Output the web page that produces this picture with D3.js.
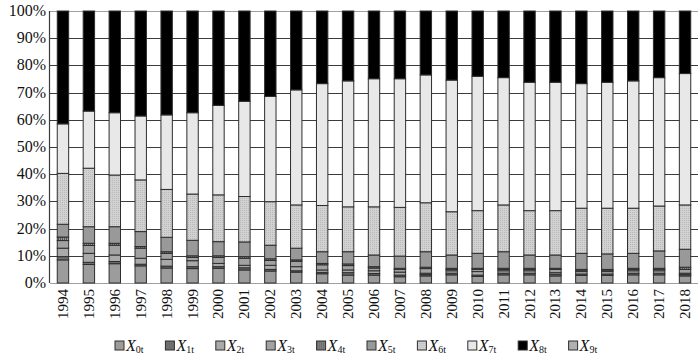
<!DOCTYPE html>
<html>
<head>
<meta charset="utf-8">
<script src="https://cdn.jsdelivr.net/npm/d3@7"></script>
<style>
  body { margin: 0; background: #fff; }
  svg { display: block; font-family: "Liberation Serif", "Times New Roman", serif; }
</style>
</head>
<body>
<div class="chart"></div>
<script>
// years on the x axis
const years = ["1994","1995","1996","1997","1998","1999","2000","2001","2002","2003","2004","2005","2006",
               "2007","2008","2009","2010","2011","2012","2013","2014","2015","2016","2017","2018"];

// share of each component (%)
const x0 = [8.5,6.8,7.1,6.3,5.5,5.3,5.4,4.8,4.4,4.0,3.4,2.9,2.9,2.3,2.6,3.0,2.4,3.0,3.0,2.6,2.8,2.8,3.0,3.0,2.6];
const x1 = [1.2,0.8,0.8,0.6,0.7,0.7,0.6,0.8,0.6,0.5,0.5,0.9,0.6,0.6,0.5,0.6,0.5,0.6,0.6,0.6,0.5,0.5,0.6,0.6,0.5];
const x2 = [3.1,3.3,2.4,2.2,2.5,2.2,1.2,0.9,1.5,1.5,0.9,1.0,1.0,1.1,0.5,0.9,1.3,0.9,0.9,0.6,0.9,0.9,0.9,0.9,0.5];
const x3 = [2.8,2.9,3.6,3.7,2.2,1.2,2.2,2.6,1.8,2.0,1.9,1.6,1.0,1.0,1.7,0.5,0.8,0.5,0.5,1.2,0.5,0.5,0.5,0.5,1.4];
const x4 = [1.3,0.8,0.7,0.6,0.6,0.6,0.6,0.6,0.6,0.5,0.5,0.6,0.5,0.4,0.5,0.4,0.4,0.4,0.4,0.4,0.3,0.3,0.4,0.4,0.8];
const x5 = [4.7,6.1,6.1,5.5,5.3,5.7,5.2,5.4,5.0,4.3,4.3,4.5,4.3,4.5,5.7,4.9,5.5,6.1,4.9,4.9,5.9,5.7,5.5,6.4,6.6];
const x6 = [18.7,21.5,19.0,19.0,17.6,17.0,17.2,16.7,16.0,15.9,17.0,16.5,17.7,17.9,18.0,15.9,15.7,17.2,16.3,16.3,16.6,16.8,16.6,16.5,16.3];
const x7 = [18.2,21.0,22.9,23.5,27.4,29.9,32.9,35.0,38.7,42.3,44.8,46.3,47.1,47.3,47.0,48.4,49.4,46.8,47.2,47.2,45.8,46.3,46.8,47.2,48.3];
const x8 = [41.5,36.8,37.4,38.6,38.2,37.4,34.7,33.2,31.4,29.0,26.7,25.7,24.9,24.9,23.5,25.4,24.0,24.5,26.2,26.2,26.7,26.2,25.7,24.5,23.0];
const x9 = [0,0,0,0,0,0,0,0,0,0,0,0,0,0,0,0,0,0,0,0,0,0,0,0,0];

const seriesKeys = ["X0","X1","X2","X3","X4","X5","X6","X7","X8","X9"];
const seriesVals = [x0,x1,x2,x3,x4,x5,x6,x7,x8,x9];
const fills = ["#9c9c9c","#6e6e6e","#a9a9a9","#a2a2a2","url(#stripe)","#999999","url(#dots)","#e8e8e8","#000000","#b0b0b0"];

const width = 700, height = 357;
const margin = {top: 11, right: 2, bottom: 74, left: 50};

let rows = years.map((y, i) => {
    let r = {year: y};
    seriesKeys.forEach((k, j) => r[k] = seriesVals[j][i]);
    return r;
});

let stacked = d3.stack().keys(seriesKeys).offset(d3.stackOffsetExpand)(rows);

let svg = d3.select(".chart").append("svg")
    .attr("width", width)
    .attr("height", height);

let defs = svg.append("defs");
let dots = defs.append("pattern").attr("id", "dots")
    .attr("width", 2).attr("height", 2).attr("patternUnits", "userSpaceOnUse");
dots.append("rect").attr("width", 2).attr("height", 2).attr("fill", "#d2d2d2");
dots.append("rect").attr("width", 1).attr("height", 1).attr("fill", "#b8b8b8");
let stripe = defs.append("pattern").attr("id", "stripe")
    .attr("width", 2).attr("height", 2).attr("patternUnits", "userSpaceOnUse");
stripe.append("rect").attr("width", 2).attr("height", 2).attr("fill", "#9a9a9a");
stripe.append("rect").attr("width", 1).attr("height", 2).attr("fill", "#555");

let x = d3.scaleBand()
    .domain(years)
    .range([margin.left, width - margin.right])
    .paddingInner(0.56)
    .paddingOuter(0.28);

let y = d3.scaleLinear()
    .domain([0, 1])
    .range([height - margin.bottom, margin.top]);

// gridlines
let ticks = d3.range(0, 1.0001, 0.1);
svg.append("g")
    .selectAll("line")
    .data(ticks)
    .join("line")
    .attr("x1", margin.left)
    .attr("x2", width - margin.right)
    .attr("y1", d => Math.round(y(d)) + 0.5)
    .attr("y2", d => Math.round(y(d)) + 0.5)
    .attr("stroke", (d, i) => (i === 0 || i === 10) ? "#a0a0a0" : "#3c3c3c")
    .attr("stroke-width", 1.2);

// y axis line
svg.append("line")
    .attr("x1", margin.left - 0.5).attr("x2", margin.left - 0.5)
    .attr("y1", y(1)).attr("y2", y(0))
    .attr("stroke", "#3c3c3c").attr("stroke-width", 1.2);

// bars
svg.append("g")
    .selectAll("g")
    .data(stacked)
    .join("g")
    .attr("fill", (d, i) => fills[i])
    .selectAll("rect")
    .data(d => d)
    .join("rect")
    .attr("x", d => x(d.data.year))
    .attr("y", d => y(d[1]))
    .attr("width", x.bandwidth())
    .attr("height", d => Math.max(0, y(d[0]) - y(d[1])))
    .attr("stroke", "#2e2e2e")
    .attr("stroke-width", 1);

// y labels
svg.append("g")
    .selectAll("text")
    .data(ticks)
    .join("text")
    .attr("x", margin.left - 4)
    .attr("y", d => y(d) + 5)
    .attr("text-anchor", "end")
    .attr("font-size", 16)
    .attr("fill", "#111")
    .text(d => d3.format(".0%")(d));

// x labels
svg.append("g")
    .selectAll("text")
    .data(years)
    .join("text")
    .attr("transform", d => `translate(${x(d) + x.bandwidth() / 2 + 5},${y(0) + 6}) rotate(-90)`)
    .attr("text-anchor", "end")
    .attr("font-size", 15)
    .attr("fill", "#111")
    .text(d => d);

// legend
let legend = svg.append("g")
    .selectAll("g")
    .data(seriesKeys)
    .join("g")
    .attr("transform", (d, i) => `translate(${115 + i * 50.4},341)`);

legend.append("rect")
    .attr("width", 9)
    .attr("height", 9)
    .attr("fill", (d, i) => fills[i])
    .attr("stroke", "#2e2e2e")
    .attr("stroke-width", 1);

let lt = legend.append("text")
    .attr("x", 11)
    .attr("y", 10)
    .attr("font-size", 16)
    .attr("fill", "#111");
lt.append("tspan").attr("font-style", "italic").text("X");
lt.append("tspan").attr("font-size", 10).attr("dy", 2).text(d => d.slice(1) + "t");
</script>
</body>
</html>
